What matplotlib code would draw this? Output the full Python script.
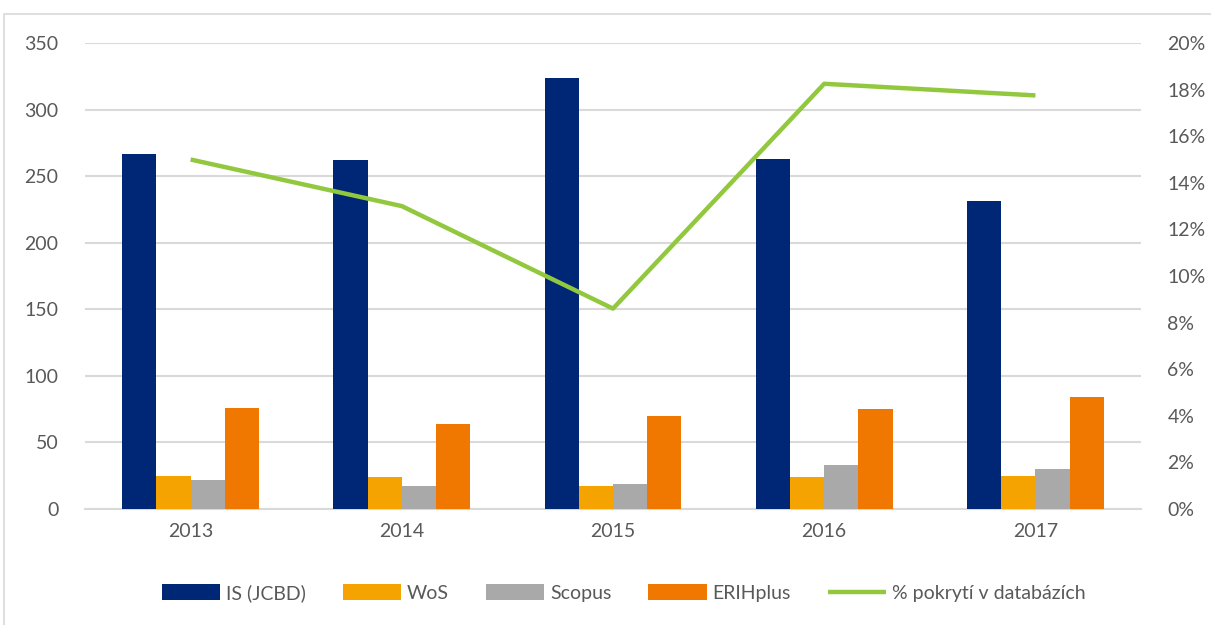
import numpy as np
import matplotlib
matplotlib.use('Agg')
import matplotlib.pyplot as plt
from matplotlib.patches import Rectangle
from matplotlib.ticker import FuncFormatter

plt.rcParams['font.family'] = ['Lato', 'DejaVu Sans']

years = ['2013', '2014', '2015', '2016', '2017']
is_jcbd = [267, 262, 324, 263, 231]
wos = [25, 24, 17, 24, 25]
scopus = [22, 17, 19, 33, 30]
erih = [76, 64, 70, 75, 84]
coverage = [15.0, 13.0, 8.6, 18.25, 17.75]  # percent

series = [
    ('IS (JCBD)', is_jcbd, '#002776'),
    ('WoS', wos, '#f4a300'),
    ('Scopus', scopus, '#a9a9a9'),
    ('ERIHplus', erih, '#f07800'),
]

text_color = '#595959'
grid_color = '#d9d9d9'

fig = plt.figure(figsize=(12.11, 6.25), dpi=100)
fig.patches.append(Rectangle((4 / 1211, -0.01), 1.0, 1 - 14 / 625 + 0.01,
                             transform=fig.transFigure, fill=False,
                             edgecolor=grid_color, linewidth=1.2))

ax = fig.add_axes([85 / 1211, 1 - 509 / 625, (1141 - 85) / 1211, (509 - 43) / 625])
x = np.arange(len(years))
width = 0.162
handles = []
for i, (name, vals, col) in enumerate(series):
    h = ax.bar(x + (i - 1.5) * width, vals, width, color=col, label=name, zorder=3)
    handles.append(h)

ax.set_xlim(-0.5, len(years) - 0.5)
ax.set_ylim(0, 350)
ax.set_yticks(np.arange(0, 351, 50))
ax.set_xticks(x)
ax.set_xticklabels(years)
ax.grid(axis='y', color=grid_color, linewidth=1.5, zorder=0)
for s in ['top', 'right', 'left']:
    ax.spines[s].set_visible(False)
ax.spines['bottom'].set_color(grid_color)
ax.spines['bottom'].set_linewidth(1.5)
ax.tick_params(length=0, labelsize=14, colors=text_color, pad=10)
ax.tick_params(axis='y', pad=19)

ax2 = ax.twinx()
line, = ax2.plot(x, coverage, color='#92c83e', linewidth=3.2, label='% pokrytí v databázích',
                 solid_capstyle='butt', zorder=4)
ax2.set_ylim(0, 20)
ax2.set_yticks(np.arange(0, 21, 2))
ax2.yaxis.set_major_formatter(FuncFormatter(lambda v, p: f'{v:.0f}%'))
for s in ax2.spines.values():
    s.set_visible(False)
ax2.tick_params(length=0, labelsize=14, colors=text_color, pad=19)

fig.legend(handles + [line], [h.get_label() for h in handles] + [line.get_label()],
           loc='center', bbox_to_anchor=(0.515, 1 - 593 / 625), ncol=5, frameon=False,
           fontsize=14, labelcolor=text_color, handlelength=3.0, handleheight=0.9,
           columnspacing=1.9, handletextpad=0.3)

fig.savefig('out.png', dpi=100)
